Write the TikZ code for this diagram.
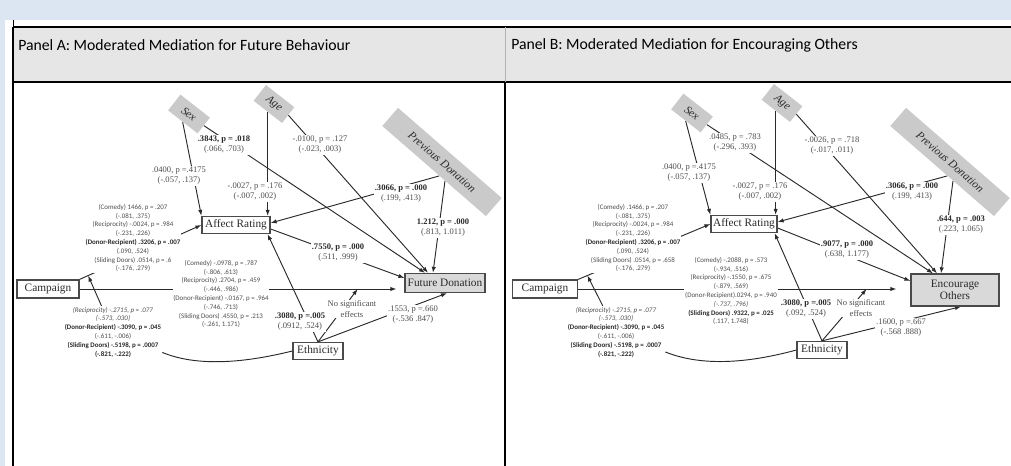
\documentclass[tikz,border=0pt]{standalone}
\usepackage{fontspec}
\setmainfont{Liberation Serif}
\setsansfont{Carlito}
\usetikzlibrary{arrows.meta,calc}
\pgfdeclarelayer{paper}\pgfdeclarelayer{wires}
\pgfsetlayers{paper,wires,main}
\definecolor{Page}{HTML}{DCE6F2}
\definecolor{Head}{HTML}{E7E6E6}
\definecolor{Ink}{HTML}{2A2A2A}
\definecolor{Soft}{HTML}{4D4D4D}
\definecolor{CovGray}{HTML}{CACACA}
\definecolor{OutGray}{HTML}{D9D9D9}
\newcommand{\sigv}[1]{\textbf{\textcolor{Ink}{#1}}}
\tikzset{var/.style={draw=Ink!85,fill=white,line width=.9pt,font=\fontsize{8.5}{9.5}\selectfont,text=Ink,inner sep=0pt,minimum height=12.8pt,align=center},outvar/.style={var,fill=OutGray},cov/.style={fill=CovGray,rotate=-38,font=\itshape\fontsize{8.5}{9.5}\selectfont,text=Ink,inner sep=0pt,minimum height=15pt},coef/.style={fill=white,inner sep=.6pt,align=center,text=Soft,font=\fontsize{6.4}{7.6}\selectfont},mod/.style={fill=white,inner sep=.6pt,align=center,text=Soft,font=\sffamily\fontsize{5.2}{6.6}\selectfont},link/.style={draw=Ink,line width=.7pt},arr/.style={link,-{Latex[length=4.5pt,width=3.2pt]}}}

\begin{document}
\begin{tikzpicture}[x=.75pt,y=-.75pt]
  \useasboundingbox (0,0) rectangle (1011,466);
  \begin{pgfonlayer}{paper}
    \fill[Page] (0,0) rectangle (1011,466);
    \fill[white] (5,20) rectangle (1011,466);
    \fill[Head] (13,27) rectangle (1011,82);
    \draw[line width=.6pt] (13,20)--(13,27);
    \draw[line width=1.4pt] (13,27)--(1011,27) (13,82)--(1011,82) (13,27)--(13,466);
    \draw[gray!60,line width=.6pt] (505,27)--(505,82);
    \draw[line width=1.1pt] (505,82)--(505,466);
  \end{pgfonlayer}
  \node[anchor=west,inner sep=0pt,font=\sffamily\fontsize{11.8}{13}\selectfont](headA) at (18,45){Panel A: Moderated Mediation for Future Behaviour};
  \node[anchor=west,inner sep=0pt,font=\sffamily\fontsize{11.8}{13}\selectfont](headB) at (511,45){Panel B: Moderated Mediation for Encouraging Others};
  % panel A
  \node[cov,minimum width=28pt](sexA) at (189,114){Sex};
  \node[cov,minimum width=27pt](ageA) at (274,104){Age};
  \node[cov,minimum width=103pt,minimum height=18pt,rotate=-3](prevA) at (442,162){Previous Donation};
  \node[var,minimum width=51pt](afA) at (236,225){Affect Rating};
  \node[var,minimum width=46.5pt,minimum height=13.5pt](campA) at (48,289){Campaign};
  \node[outvar,minimum width=60pt,minimum height=14.3pt](fdA) at (445,283){Future Donation};
  \node[var,minimum width=37.5pt](ethA) at (318,351){Ethnicity};
  \node[coef](kA1) at (224,145){\sigv{.3843, p = .018}\\(.066, .703)};
  \node[coef](kA2) at (179,176){.0400, p =.4175\\(-.057, .137)};
  \node[coef](kA3) at (255,192){-.0027, p = .176\\(-.007, .002)};
  \node[coef](kA4) at (320,145){-.0100, p = .127\\(-.023, .003)};
  \node[coef](kA5) at (401,194){\sigv{.3066, p = .000}\\(.199, .413)};
  \node[coef](kA6) at (443,228){\sigv{1.212, p = .000}\\(.813, 1.011)};
  \node[coef](kA7) at (338,253){\sigv{.7550, p = .000}\\(.511, .999)};
  \node[coef](kA8) at (300,322){\sigv{.3080, p =.005}\\(.0912, .524)};
  \node[coef](kA9) at (352,309){No significant\\effects};
  \node[coef](kA10) at (413,315){.1553, p =.660\\(-.536 .847)};
  \node[mod](mA1) at (133,238){(Comedy) 1466, p = .207\\(-.081, .375)\\(Reciprocity) -.0024, p = .984\\(-.231, .226)\\\sigv{(Donor-Recipient) .3206, p = .007}\\(.090, .524)\\(Sliding Doors) .0514, p = .6\\(-.176, .279)};
  \node[mod](mA2) at (221,294){(Comedy) -.0978, p = .787\\(-.806, .613)\\(Reciprocity) .2704, p = .459\\(-.446, .986)\\(Donor-Recipient) -.0167, p = .964\\(-.746, .713)\\(Sliding Doors) .4550, p = .213\\(-.261, 1.171)};
  \node[mod](mA3) at (113,332){\textit{(Reciprocity) -.2715, p = .077}\\\textit{(-.573, .030)}\\\sigv{(Donor-Recipient) -.3090, p = .045}\\(-.611, -.006)\\\sigv{(Sliding Doors) -.5198, p = .0007}\\\sigv{(-.821, -.222)}};
  % panel B
  \node[cov,minimum width=28pt](sexB) at (692,113){Sex};
  \node[cov,minimum width=27pt](ageB) at (782,103){Age};
  \node[cov,minimum width=103pt,minimum height=18pt,rotate=-3](prevB) at (950,162){Previous Donation};
  \node[var,minimum width=49.5pt](afB) at (744,224){Affect Rating};
  \node[var,minimum width=48.8pt,minimum height=13.5pt](campB) at (545,289){Campaign};
  \node[outvar,minimum width=66pt,minimum height=24pt](eoB) at (955,290){Encourage\\Others};
  \node[var,minimum width=37.5pt](ethB) at (822,350){Ethnicity};
  \node[coef](kB1) at (735,143){.0485, p = .783\\(-.296, .393)};
  \node[coef](kB2) at (689,173){.0400, p =.4175\\(-.057, .137)};
  \node[coef](kB3) at (760,192){-.0027, p = .176\\(-.007, .002)};
  \node[coef](kB4) at (832,146){-.0026, p = .718\\(-.017, .011)};
  \node[coef](kB5) at (912,192){\sigv{.3066, p = .000}\\(.199, .413)};
  \node[coef](kB6) at (961,225){\sigv{.644, p = .003}\\(.223, 1.065)};
  \node[coef](kB7) at (847,250){\sigv{.9077, p = .000}\\(.638, 1.177)};
  \node[coef](kB8) at (806,309){\sigv{.3080, p =.005}\\(.092, .524)};
  \node[coef](kB9) at (861,308){No significant\\effects};
  \node[coef](kB10) at (901,328){.1600, p =.667\\(-.568 .888)};
  \node[mod](mB1) at (633,238){(Comedy) .1466, p = .207\\(-.081, .375)\\(Reciprocity) -.0024, p = .984\\(-.231, .226)\\\sigv{(Donor-Recipient) .3206, p = .007}\\(.090, .524)\\(Sliding Doors) .0514, p = .658\\(-.176, .279)};
  \node[mod](mB2) at (731,291){(Comedy) -.2088, p = .573\\(-.934, .516)\\(Reciprocity) -.1550, p = .675\\(-.879, .569)\\(Donor-Recipient).0294, p = .940\\\textit{(-.737, .796)}\\\sigv{(Sliding Doors) .9322, p = .025}\\(.117, 1.748)};
  \node[mod](mB3) at (616,332){\textit{(Reciprocity) -.2715, p = .077}\\\textit{(-.573, .030)}\\\sigv{(Donor-Recipient) -.3090, p = .045}\\(-.611, -.006)\\\sigv{(Sliding Doors) -.5198, p = .0007}\\\sigv{(-.821, -.222)}};
  \begin{pgfonlayer}{wires}
    % panel A paths
    \coordinate(cmA) at ($(campA.north east)!.07!(afA.west)$);
    \coordinate(hA) at ($(campA.east)!.856!(campA.east -| fdA.west)$);
    \draw[arr](sexA.south)--(afA.north west);
    \draw[arr](sexA.east)--($(fdA.north)+(-20,0)$);
    \draw[arr](ageA.south)--(ageA.south |- afA.north);
    \draw[arr](ageA.east)--($(fdA.north)+(-17,0)$);
    \draw[arr](prevA.-60)--($(afA.east)+(0,-2)$);
    \draw[arr](prevA.-40)--($(fdA.north)+(-12,0)$);
    \draw[arr]($(afA.east)+(0,4)$)--($(fdA.west)+(0,-5)$);
    \draw[arr](campA.north east)--(afA.west);
    \draw[arr](campA.east)--($(campA.east -| fdA.west)+(-8,0)$);
    \draw[arr](ethA.north)--($(afA.south east)+(-3,0)$);
    \draw[arr](ethA.north)--(hA);
    \draw[arr](ethA.north)--($(fdA.south)+(2,0)$);
    \draw[link](ethA.west) .. controls (240,364) and (195,366) .. (mA3);
    \draw[arr](mA3)--(cmA);
    % panel B paths
    \coordinate(cmB) at ($(campB.north east)!.07!(afB.west)$);
    \coordinate(hB) at ($(campB.east)!.868!(campB.east -| eoB.west)$);
    \draw[arr](sexB.south)--(afB.north west);
    \draw[arr](sexB.east)--($(eoB.north)+(-22,0)$);
    \draw[arr](ageB.south)--(ageB.south |- afB.north);
    \draw[arr](ageB.east)--($(eoB.north)+(-18,0)$);
    \draw[arr](prevB.-60)--($(afB.east)+(0,-2)$);
    \draw[arr](prevB.-40)--($(eoB.north)+(-14,0)$);
    \draw[arr]($(afB.east)+(0,4)$)--($(eoB.west)+(0,-9)$);
    \draw[arr](campB.north east)--(afB.west);
    \draw[arr](campB.east)--($(campB.east -| eoB.west)+(-14,0)$);
    \draw[arr](ethB.north)--($(afB.south east)+(-3,0)$);
    \draw[arr](ethB.north)--(hB);
    \draw[arr](ethB.north)--($(eoB.south)+(6,0)$);
    \draw[link](ethB.west) .. controls (745,364) and (700,366) .. (mB3);
    \draw[arr](mB3)--(cmB);
  \end{pgfonlayer}
\end{tikzpicture}
\end{document}
